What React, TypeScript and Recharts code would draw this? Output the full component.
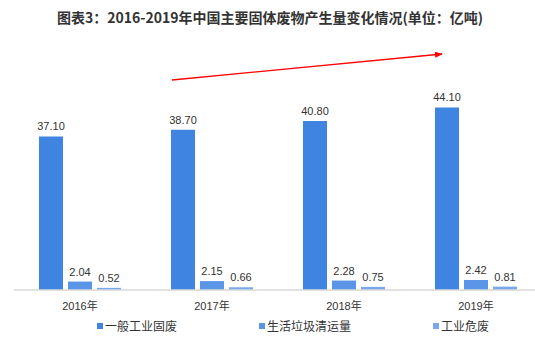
import React from "react"
import { BarChart, Bar, XAxis, YAxis, LabelList } from "recharts"

const years = ["2016年", "2017年", "2018年", "2019年"]
const generalIndustrial = [37.1, 38.7, 40.8, 44.1]
const householdGarbage = [2.04, 2.15, 2.28, 2.42]
const hazardousIndustrial = [0.52, 0.66, 0.75, 0.81]

const seriesNames = ["一般工业固废", "生活垃圾清运量", "工业危废"]
const seriesColors = ["#3E84E0", "#5A95E8", "#78A8EE"]

const data = years.map((year, i) => ({
  year,
  general: generalIndustrial[i],
  household: householdGarbage[i],
  hazardous: hazardousIndustrial[i],
}))

const font = "'Liberation Sans', 'Noto Sans CJK SC', sans-serif"

export default function App() {
  const labelProps = { position: "top" as const, offset: 6, fontSize: 11, fill: "#333", fontFamily: font, formatter: (v: number) => v.toFixed(2) }
  return (
    <div style={{ position: "absolute", left: 0, top: 0, width: 535, height: 351, overflow: "hidden", background: "#fff" }}>
      <div
        style={{
          position: "absolute",
          top: 7,
          left: 0,
          width: 540,
          textAlign: "center",
          fontFamily: "'Noto Sans CJK SC', sans-serif",
          fontWeight: "bold",
          fontSize: 14,
          color: "#333",
        }}
      >
        图表3：2016-2019年中国主要固体废物产生量变化情况(单位：亿吨)
      </div>
      <BarChart width={545} height={351} data={data} margin={{ top: 83, right: 3, bottom: 31, left: 14 }} barGap={5}>
        <XAxis
          dataKey="year"
          height={30}
          axisLine={{ stroke: "#D9D9D9", strokeWidth: 1.5 }}
          tickLine={false}
          tick={{ fontSize: 11, fill: "#333", fontFamily: font }}
          tickMargin={6}
        />
        <YAxis hide domain={[0, 50]} />
        <Bar dataKey="general" name={seriesNames[0]} fill={seriesColors[0]} barSize={24} isAnimationActive={false}>
          <LabelList dataKey="general" {...labelProps} />
        </Bar>
        <Bar dataKey="household" name={seriesNames[1]} fill={seriesColors[1]} barSize={24} isAnimationActive={false}>
          <LabelList dataKey="household" {...labelProps} />
        </Bar>
        <Bar dataKey="hazardous" name={seriesNames[2]} fill={seriesColors[2]} barSize={24} isAnimationActive={false}>
          <LabelList dataKey="hazardous" {...labelProps} />
        </Bar>
      </BarChart>
      <div
        style={{
          position: "absolute",
          top: 317,
          left: 97,
          display: "flex",
          gap: 82,
          fontFamily: font,
          fontSize: 12,
          color: "#333",
        }}
      >
        {seriesNames.map((name, i) => (
          <div key={name} style={{ display: "flex", alignItems: "center" }}>
            <span style={{ width: 6, height: 6, background: seriesColors[i], marginRight: 2 }} />
            <span>{name}</span>
          </div>
        ))}
      </div>
      <svg width={535} height={351} style={{ position: "absolute", left: 0, top: 0, pointerEvents: "none" }}>
        <defs>
          <marker id="arrowHead" markerWidth="8" markerHeight="6" refX="7" refY="3" orient="auto" markerUnits="userSpaceOnUse">
            <path d="M0,0 L8,3 L0,6 Z" fill="#FF0000" />
          </marker>
        </defs>
        <line x1={172} y1={80} x2={442} y2={54} stroke="#FF0000" strokeWidth={1.3} markerEnd="url(#arrowHead)" />
      </svg>
    </div>
  )
}
